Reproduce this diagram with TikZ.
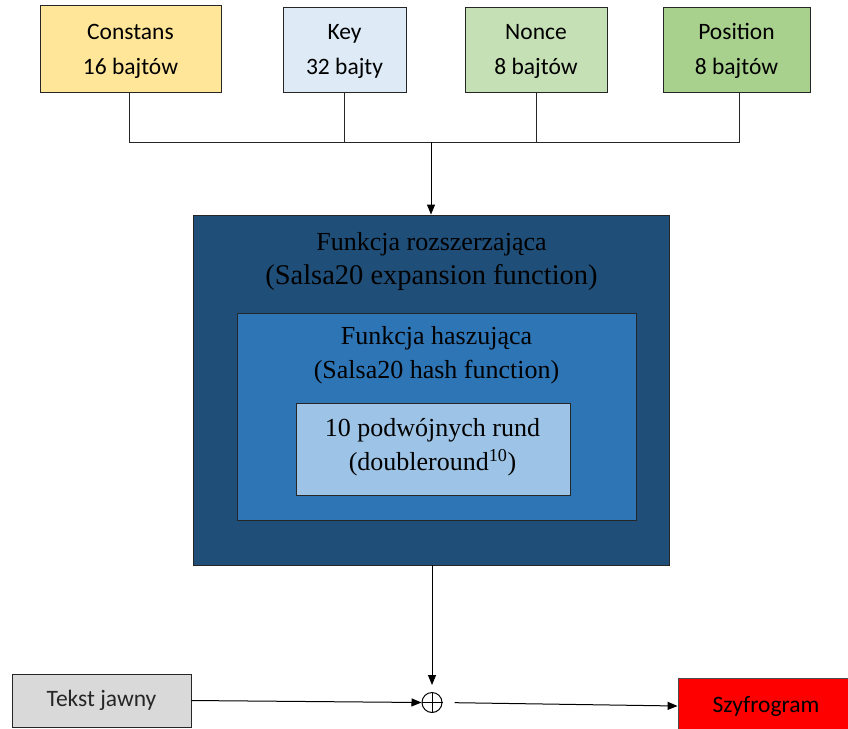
\documentclass[tikz,border=0pt]{standalone}
\usepackage{fontspec}
\setmainfont{Liberation Serif}
\newfontfamily\calibri{Carlito}
\usetikzlibrary{arrows.meta}

\definecolor{cConst}{HTML}{FFE699}
\definecolor{cKey}{HTML}{DEEBF7}
\definecolor{cNonce}{HTML}{C5E0B4}
\definecolor{cPos}{HTML}{A9D18E}
\definecolor{cOuter}{HTML}{1F4E79}
\definecolor{cMid}{HTML}{2E75B6}
\definecolor{cInner}{HTML}{9DC3E6}
\definecolor{cPlain}{HTML}{D9D9D9}
\definecolor{cCipher}{HTML}{FF0000}
\definecolor{cLine}{HTML}{262626}

\tikzset{
  inbox/.style={draw=cLine, line width=0.9pt, inner sep=0pt, align=center,
    font=\calibri\fontsize{23.5}{35}\selectfont, text=black},
  intext/.style={inner sep=0pt, align=center,
    font=\calibri\fontsize{23.5}{35}\selectfont, text=black},
  layer/.style={draw=black!85, line width=0.9pt, inner sep=0pt},
  layertext/.style={align=center, inner sep=0pt,
    font=\fontsize{26}{34}\selectfont, text=black},
  wire/.style={draw=cLine, line width=1pt},
  flow/.style={draw=black, line width=1pt, -{Triangle[length=10pt,width=8pt]}},
}

\begin{document}
\begin{tikzpicture}[x=1pt,y=-1pt]
  \useasboundingbox (0,0) rectangle (848,728);

  % input words
  \node[inbox, fill=cConst, minimum width=181, minimum height=87] (const) at (130.5,48.5) {};
  \node[intext] (constlbl) at (130.5,51) {Constans\\16 bajtów};
  \node[inbox, fill=cKey, minimum width=123, minimum height=85] (key) at (344.5,49.5) {};
  \node[intext] (keylbl) at (344.5,51) {Key\\32 bajty};
  \node[inbox, fill=cNonce, minimum width=142, minimum height=85] (nonce) at (536,49.5) {};
  \node[intext] (noncelbl) at (536,51) {Nonce\\8 bajtów};
  \node[inbox, fill=cPos, minimum width=147, minimum height=85] (pos) at (736.5,49.5) {};
  \node[intext] (poslbl) at (736.5,51) {Position\\8 bajtów};

  % bus joining the inputs
  \coordinate (busL) at (129,142);
  \coordinate (busR) at (739,142);
  \coordinate (busM) at (431,142);
  \draw[wire] (const.south -| busL) -- (busL) -- (busR) -- (pos.south -| busR);
  \draw[wire] (key.south) -- (key.south |- busL);
  \draw[wire] (nonce.south) -- (nonce.south |- busL);

  % nested Salsa20 layers
  \node[layer, fill=cOuter, minimum width=476, minimum height=350] (expand) at (431,390) {};
  \node[layertext] (expandlbl) at (431.5,261.5) {Funkcja rozszerzająca\\{\fontsize{28.5}{34}\selectfont (Salsa20 expansion function)}};
  \node[layer, fill=cMid, minimum width=399, minimum height=207] (hash) at (436.5,416.5) {};
  \node[layertext] (hashlbl) at (436.5,355.5) {Funkcja haszująca\\(Salsa20 hash function)};
  \node[layer, fill=cInner, minimum width=274, minimum height=92] (dround) at (433,449) {};
  \node[layertext] (droundlbl) at (432.5,447) {10 podwójnych rund\\(doubleround\textsuperscript{10})};

  \draw[flow] (busM) -- (expand.north -| busM);

  % XOR with plaintext
  \node[circle, draw=black, line width=1pt, minimum size=20, inner sep=0pt] (xor) at (432,702.5) {};
  \draw[black, line width=1pt] (xor.north) -- (xor.south) (xor.west) -- (xor.east);

  \node[inbox, fill=cPlain, minimum width=179, minimum height=53, text=cLine] (plain) at (101.5,700.5) {Tekst jawny};
  \node[inbox, fill=cCipher, minimum width=176, minimum height=56, draw=black!70] (cipher) at (766,706) {\raisebox{3pt}{Szyfrogram}};

  \draw[flow, shorten >=7pt] (expand.south -| xor) -- (xor.north);
  \draw[flow] (plain.east) -- (xor.west);
  \draw[flow, shorten <=12pt] (xor.east) -- (cipher.west);
\end{tikzpicture}
\end{document}
